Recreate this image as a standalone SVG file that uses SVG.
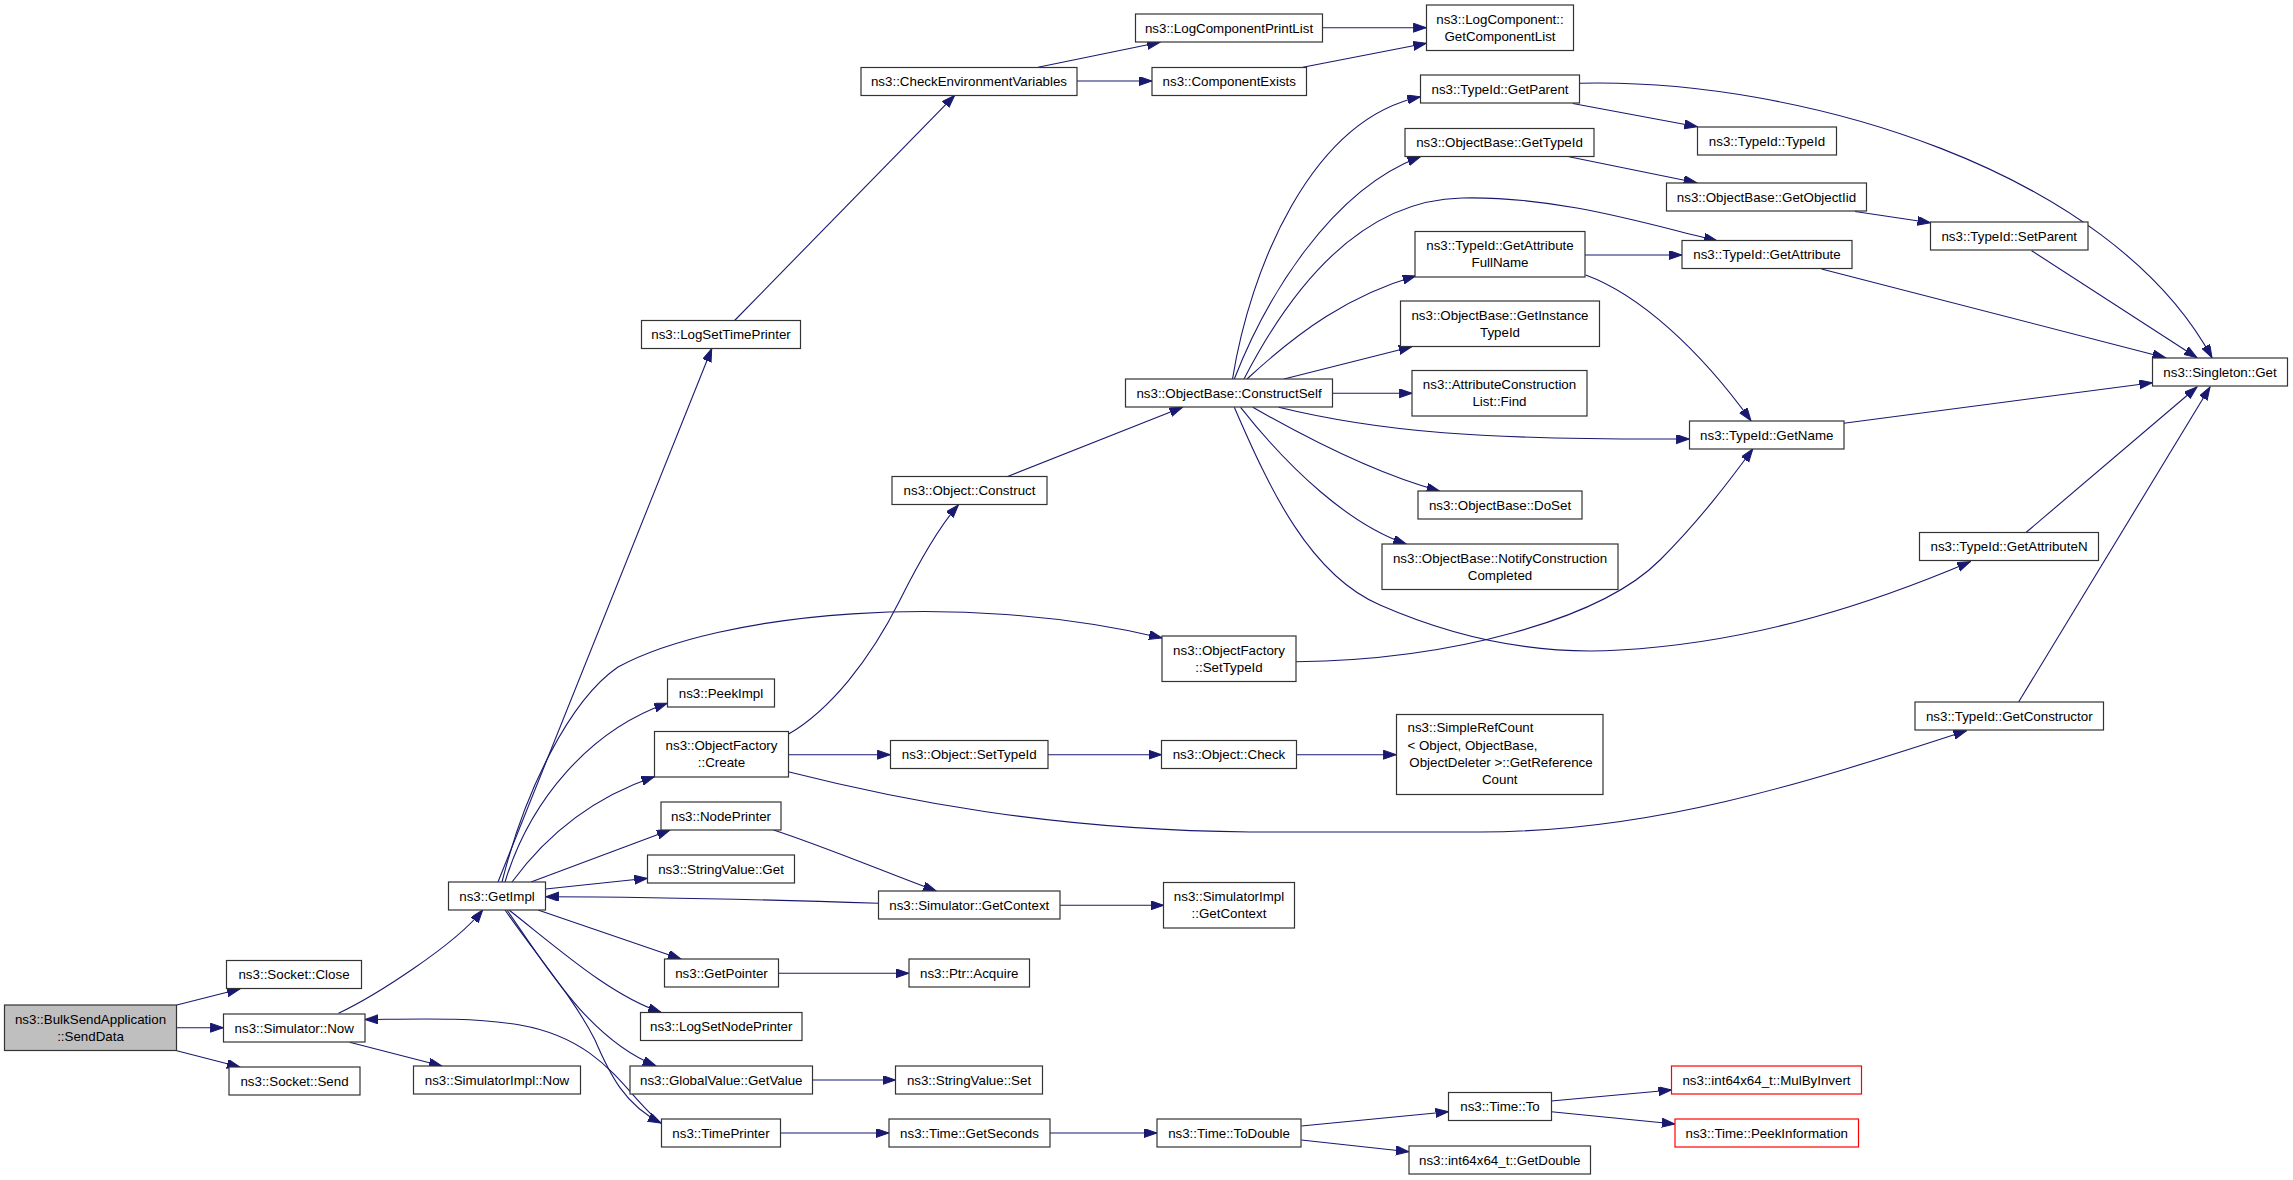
<svg xmlns="http://www.w3.org/2000/svg" width="2293" height="1180" viewBox="0 0 2293 1180">
<style>
.n rect{fill:#ffffff;stroke:#333333;stroke-width:1.2}
.n.root rect{fill:#bfbfbf}
.n.red rect{stroke:#ff0000}
text{font-family:"Liberation Sans",Arial,Helvetica,sans-serif;font-size:13.33px;text-anchor:middle;fill:#000000}
text.l{text-anchor:start}
#edges path{fill:none;stroke:#191970;stroke-width:1.1;marker-end:url(#arr)}
</style>
<defs>
<marker id="arr" markerUnits="userSpaceOnUse" markerWidth="14" markerHeight="10" refX="13" refY="4.5" orient="auto">
<path d="M0,0 L13,4.5 L0,9 z" fill="#191970" stroke="#191970" stroke-width="1"/>
</marker>
</defs>
<rect x="0" y="0" width="2293" height="1180" fill="#ffffff"/>
<g id="edges">
<path d="M176.8,1005 L240,989"/>
<path d="M176.4,1027.7 L223.4,1027.7"/>
<path d="M176.8,1050.7 L240,1067"/>
<path d="M338.5,1013.3 C375,996 455,945 482.7,910"/>
<path d="M349.6,1042.3 L442,1066"/>
<path d="M662,1124 C625,1095 605,1040 520,1025 C470,1017 420,1019 365.1,1019.5"/>
<path d="M498,882 L711.7,348.7"/>
<path d="M734.6,320.5 L954.7,95.3"/>
<path d="M1038,67.3 L1160,42.3"/>
<path d="M1077,81 L1152,81"/>
<path d="M1322.4,27.7 L1426.3,27.7"/>
<path d="M1302.8,67.3 L1426.3,43.3"/>
<path d="M502,882 C525,790 570,700 618,667 C720,612 960,590 1162,638"/>
<path d="M505,882 C530,800 590,730 667.3,703.3"/>
<path d="M512,882 C550,830 600,795 654.3,776.7"/>
<path d="M531,882 L670,830"/>
<path d="M545.6,889 L647.3,878.3"/>
<path d="M878.5,903.3 C750,899 640,897 545.6,896.7"/>
<path d="M538,910 L681,959"/>
<path d="M509,910 C560,950 610,995 661,1012.3"/>
<path d="M507,910 C545,965 590,1040 655.8,1065.7"/>
<path d="M505,910 C540,960 575,1000 595,1040 C610,1075 625,1105 661,1123"/>
<path d="M788.2,734.3 C830,710 870,660 900,600 C925,550 945,520 958.4,505"/>
<path d="M1007.6,476.5 L1182.5,407.3"/>
<path d="M788.2,754.7 L890.3,754.7"/>
<path d="M1047.9,754.7 L1161.5,754.7"/>
<path d="M1296.5,754.7 L1396.3,754.7"/>
<path d="M788.2,771.7 C900,800 1050,830 1250,832 L1480,832 C1650,832 1800,785 1966.5,730.7"/>
<path d="M1232.5,379 C1250,270 1310,120 1420.4,96.7"/>
<path d="M1234.3,379 C1265,300 1330,190 1420.4,156.7"/>
<path d="M1244,379 C1290,290 1360,200 1462,198 C1560,196 1650,225 1717,240.7"/>
<path d="M1247,379 C1300,330 1350,295 1415.6,276"/>
<path d="M1284,379 L1411.9,346.7"/>
<path d="M1332.3,393.3 L1412.2,393.3"/>
<path d="M1278.7,407.3 C1380,432 1480,440 1689.3,439"/>
<path d="M1252.8,407.3 C1310,440 1380,475 1439.6,491"/>
<path d="M1240.6,407.3 C1290,470 1350,525 1406.3,544"/>
<path d="M1234.3,407.3 C1270,490 1310,575 1380,605 C1460,640 1540,655 1620,650 C1760,642 1880,600 1970.3,561.7"/>
<path d="M1584.6,255 L1681.9,255"/>
<path d="M1585.7,275 C1640,295 1700,350 1751,420.7"/>
<path d="M1572.8,103.5 L1697.4,126.7"/>
<path d="M1569,156.7 L1696.7,182.7"/>
<path d="M1855,211.5 L1930.5,222.7"/>
<path d="M1579.4,83.3 C1800,78 2110,170 2212,357.7"/>
<path d="M2031.6,250.7 L2197,357.7"/>
<path d="M1821.5,269 L2165.5,357.7"/>
<path d="M1843.8,423.3 L2152.4,382.7"/>
<path d="M2026,532.5 L2197,387"/>
<path d="M2018.6,702 L2210,387"/>
<path d="M1296.1,661.7 C1450,660 1600,620 1660,560 C1700,520 1730,480 1752.8,449"/>
<path d="M1060.1,905.3 L1163.7,905.3"/>
<path d="M773.5,830 C820,845 880,870 936.2,891"/>
<path d="M778.3,973.3 L908.8,973.3"/>
<path d="M812.7,1080 L895.5,1080"/>
<path d="M780.8,1133 L888.9,1133"/>
<path d="M1049.8,1133 L1157,1133"/>
<path d="M1301.3,1126 L1448.5,1111.7"/>
<path d="M1301.3,1140 L1408.9,1151.7"/>
<path d="M1551.3,1101 L1671.5,1090"/>
<path d="M1551.3,1111.7 L1674.9,1124"/>
</g>
<g id="n1" class="n root"><rect x="4.5" y="1005" width="172" height="45.5"/><text x="90.5" y="1023.75">ns3::BulkSendApplication</text><text x="90.5" y="1040.75">::SendData</text></g>
<g id="n2" class="n"><rect x="226.5" y="960.5" width="135" height="28"/><text x="294" y="979">ns3::Socket::Close</text></g>
<g id="n3" class="n"><rect x="223.5" y="1014" width="141.5" height="28"/><text x="294.25" y="1032.5">ns3::Simulator::Now</text></g>
<g id="n4" class="n"><rect x="229" y="1067" width="131" height="28"/><text x="294.5" y="1085.5">ns3::Socket::Send</text></g>
<g id="n5" class="n"><rect x="448.5" y="882" width="97" height="28"/><text x="497" y="900.5">ns3::GetImpl</text></g>
<g id="n6" class="n"><rect x="413.5" y="1066" width="167" height="28"/><text x="497" y="1084.5">ns3::SimulatorImpl::Now</text></g>
<g id="n7" class="n"><rect x="641.5" y="320.5" width="159" height="28"/><text x="721" y="339">ns3::LogSetTimePrinter</text></g>
<g id="n8" class="n"><rect x="861" y="67.5" width="216" height="28"/><text x="969" y="86">ns3::CheckEnvironmentVariables</text></g>
<g id="n9" class="n"><rect x="1135.5" y="14" width="187" height="28"/><text x="1229" y="32.5">ns3::LogComponentPrintList</text></g>
<g id="n10" class="n"><rect x="1152" y="67.5" width="154.5" height="28"/><text x="1229.25" y="86">ns3::ComponentExists</text></g>
<g id="n11" class="n"><rect x="1426.5" y="5" width="147" height="45.5"/><text x="1500" y="23.75">ns3::LogComponent::</text><text x="1500" y="40.75">GetComponentList</text></g>
<g id="n12" class="n"><rect x="1420.5" y="75" width="159" height="28"/><text x="1500" y="93.5">ns3::TypeId::GetParent</text></g>
<g id="n13" class="n"><rect x="1405" y="128.5" width="189" height="28"/><text x="1499.5" y="147">ns3::ObjectBase::GetTypeId</text></g>
<g id="n14" class="n"><rect x="1415" y="231.5" width="170" height="45.5"/><text x="1500" y="250.25">ns3::TypeId::GetAttribute</text><text x="1500" y="267.25">FullName</text></g>
<g id="n15" class="n"><rect x="1400.5" y="301" width="199" height="45.5"/><text x="1500" y="319.75">ns3::ObjectBase::GetInstance</text><text x="1500" y="336.75">TypeId</text></g>
<g id="n16" class="n"><rect x="1412" y="370.5" width="175" height="45.5"/><text x="1499.5" y="389.25">ns3::AttributeConstruction</text><text x="1499.5" y="406.25">List::Find</text></g>
<g id="n17" class="n"><rect x="1125.5" y="379" width="207" height="28"/><text x="1229" y="397.5">ns3::ObjectBase::ConstructSelf</text></g>
<g id="n18" class="n"><rect x="1697.5" y="127" width="139" height="28"/><text x="1767" y="145.5">ns3::TypeId::TypeId</text></g>
<g id="n19" class="n"><rect x="1666.5" y="183" width="200" height="28"/><text x="1766.5" y="201.5">ns3::ObjectBase::GetObjectIid</text></g>
<g id="n20" class="n"><rect x="1682" y="240.5" width="170" height="28"/><text x="1767" y="259">ns3::TypeId::GetAttribute</text></g>
<g id="n21" class="n"><rect x="1930.5" y="222" width="157.5" height="28"/><text x="2009.25" y="240.5">ns3::TypeId::SetParent</text></g>
<g id="n22" class="n"><rect x="2152.5" y="358" width="135" height="28"/><text x="2220" y="376.5">ns3::Singleton::Get</text></g>
<g id="n23" class="n"><rect x="1689.5" y="421" width="154.5" height="28"/><text x="1766.75" y="439.5">ns3::TypeId::GetName</text></g>
<g id="n24" class="n"><rect x="1418" y="491" width="164" height="28"/><text x="1500" y="509.5">ns3::ObjectBase::DoSet</text></g>
<g id="n25" class="n"><rect x="1382" y="544" width="236" height="45.5"/><text x="1500" y="562.75">ns3::ObjectBase::NotifyConstruction</text><text x="1500" y="579.75">Completed</text></g>
<g id="n26" class="n"><rect x="1919.5" y="532.5" width="179" height="28"/><text x="2009" y="551">ns3::TypeId::GetAttributeN</text></g>
<g id="n27" class="n"><rect x="1162" y="636" width="134" height="45.5"/><text x="1229" y="654.75">ns3::ObjectFactory</text><text x="1229" y="671.75">::SetTypeId</text></g>
<g id="n28" class="n"><rect x="1915" y="702" width="188.5" height="28"/><text x="2009.25" y="720.5">ns3::TypeId::GetConstructor</text></g>
<g id="n29" class="n"><rect x="892" y="476.5" width="155" height="28"/><text x="969.5" y="495">ns3::Object::Construct</text></g>
<g id="n30" class="n"><rect x="667.5" y="679" width="107" height="28"/><text x="721" y="697.5">ns3::PeekImpl</text></g>
<g id="n31" class="n"><rect x="654.5" y="731.5" width="134" height="45.5"/><text x="721.5" y="750.25">ns3::ObjectFactory</text><text x="721.5" y="767.25">::Create</text></g>
<g id="n32" class="n"><rect x="890.5" y="740.5" width="157.5" height="28"/><text x="969.25" y="759">ns3::Object::SetTypeId</text></g>
<g id="n33" class="n"><rect x="1161.5" y="740.5" width="135" height="28"/><text x="1229" y="759">ns3::Object::Check</text></g>
<g id="n34" class="n"><rect x="1396.5" y="714.5" width="206.5" height="80"/><text class="l" x="1407.5" y="732.2">ns3::SimpleRefCount</text><text class="l" x="1407.5" y="749.5">&lt; Object, ObjectBase,</text><text x="1501" y="766.8">ObjectDeleter &gt;::GetReference</text><text x="1499.75" y="783.8">Count</text></g>
<g id="n35" class="n"><rect x="661" y="802" width="120" height="28"/><text x="721" y="820.5">ns3::NodePrinter</text></g>
<g id="n36" class="n"><rect x="647.5" y="855" width="147" height="28"/><text x="721" y="873.5">ns3::StringValue::Get</text></g>
<g id="n37" class="n"><rect x="878.5" y="891" width="181.5" height="28"/><text x="969.25" y="909.5">ns3::Simulator::GetContext</text></g>
<g id="n38" class="n"><rect x="1163.5" y="882.5" width="131" height="45.5"/><text x="1229" y="901.25">ns3::SimulatorImpl</text><text x="1229" y="918.25">::GetContext</text></g>
<g id="n39" class="n"><rect x="664.5" y="959" width="114" height="28"/><text x="721.5" y="977.5">ns3::GetPointer</text></g>
<g id="n40" class="n"><rect x="909" y="959" width="120.5" height="28"/><text x="969.25" y="977.5">ns3::Ptr::Acquire</text></g>
<g id="n41" class="n"><rect x="640.5" y="1012.5" width="161.5" height="28"/><text x="721.25" y="1031">ns3::LogSetNodePrinter</text></g>
<g id="n42" class="n"><rect x="630" y="1066" width="182.5" height="28"/><text x="721.25" y="1084.5">ns3::GlobalValue::GetValue</text></g>
<g id="n43" class="n"><rect x="895.5" y="1066" width="147" height="28"/><text x="969" y="1084.5">ns3::StringValue::Set</text></g>
<g id="n44" class="n"><rect x="661.5" y="1119" width="119" height="28"/><text x="721" y="1137.5">ns3::TimePrinter</text></g>
<g id="n45" class="n"><rect x="889" y="1119" width="161" height="28"/><text x="969.5" y="1137.5">ns3::Time::GetSeconds</text></g>
<g id="n46" class="n"><rect x="1157" y="1119" width="144" height="28"/><text x="1229" y="1137.5">ns3::Time::ToDouble</text></g>
<g id="n47" class="n"><rect x="1448.5" y="1092.5" width="103" height="28"/><text x="1500" y="1111">ns3::Time::To</text></g>
<g id="n48" class="n"><rect x="1409" y="1146" width="181.5" height="28"/><text x="1499.75" y="1164.5">ns3::int64x64_t::GetDouble</text></g>
<g id="n49" class="n red"><rect x="1671.5" y="1066" width="190" height="28"/><text x="1766.5" y="1084.5">ns3::int64x64_t::MulByInvert</text></g>
<g id="n50" class="n red"><rect x="1675" y="1119" width="183.5" height="28"/><text x="1766.75" y="1137.5">ns3::Time::PeekInformation</text></g>
</svg>
